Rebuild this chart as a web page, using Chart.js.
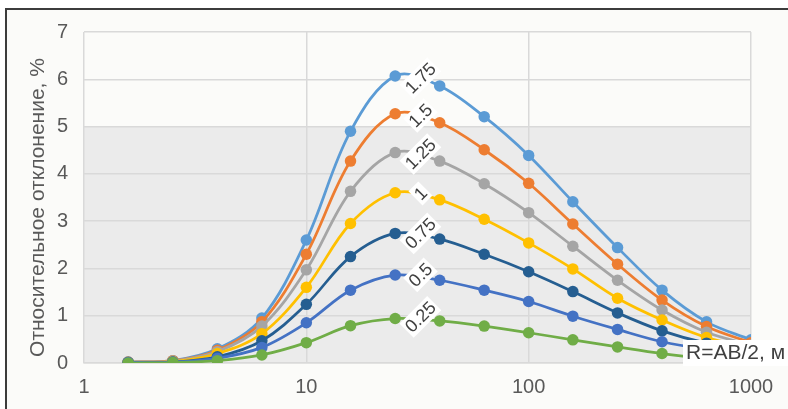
<!DOCTYPE html>
<html>
<head>
<meta charset="utf-8">
<script src="https://cdn.jsdelivr.net/npm/chart.js@4/dist/chart.umd.min.js"></script>
<style>
  html, body { margin: 0; padding: 0; background: #fff; }
  #wrap { width: 788px; height: 409px; }
</style>
</head>
<body>
<div id="wrap"><canvas id="chart" width="788" height="409"></canvas></div>
<script>
// --- data ---
const R_VALUES = [1.58, 2.51, 3.98, 6.31, 10, 15.8, 25.1, 39.8, 63.1, 100, 158, 251, 398, 631, 1000];
const X_TICKS = [1, 10, 100, 1000];
const Y_TICKS = [0, 1, 2, 3, 4, 5, 6, 7];
const SERIES_LABELS = ["1.75", "1.5", "1.25", "1", "0.75", "0.5", "0.25"];
const DEV_175 = [0.02, 0.05, 0.3, 0.95, 2.6, 4.9, 6.07, 5.86, 5.21, 4.39, 3.41, 2.44, 1.54, 0.87, 0.49];
const DEV_150 = [0.02, 0.05, 0.27, 0.87, 2.3, 4.27, 5.27, 5.08, 4.51, 3.8, 2.94, 2.09, 1.33, 0.77, 0.43];
const DEV_125 = [0.02, 0.04, 0.24, 0.78, 1.97, 3.63, 4.45, 4.27, 3.79, 3.18, 2.47, 1.75, 1.12, 0.65, 0.38];
const DEV_100 = [0.01, 0.03, 0.2, 0.62, 1.6, 2.95, 3.6, 3.45, 3.04, 2.54, 1.99, 1.37, 0.91, 0.54, 0.33];
const DEV_075 = [0.01, 0.02, 0.13, 0.47, 1.24, 2.25, 2.74, 2.62, 2.3, 1.93, 1.51, 1.06, 0.68, 0.42, 0.27];
const DEV_050 = [0.01, 0.02, 0.1, 0.33, 0.85, 1.54, 1.86, 1.75, 1.54, 1.3, 0.99, 0.71, 0.45, 0.29, 0.18];
const DEV_025 = [0, 0.01, 0.05, 0.17, 0.43, 0.79, 0.94, 0.89, 0.78, 0.64, 0.49, 0.34, 0.2, 0.1, 0.03];
const BAND = [0, 5]; // shaded range on y
const Y_TITLE = "Относительное отклонение, %";
const X_TITLE = "R=AB/2, м";

const SERIES = [DEV_175, DEV_150, DEV_125, DEV_100, DEV_075, DEV_050, DEV_025];
const COLORS = ["#5b9bd5", "#ed7d31", "#a5a5a5", "#ffc000", "#255e91", "#4472c4", "#70ad47"];
const FONT = "'Liberation Sans', Arial, sans-serif";
const TEXT = "#595959";

const datasets = SERIES.map((vals, i) => ({
  label: SERIES_LABELS[i],
  data: vals.map((v, j) => ({ x: R_VALUES[j], y: v })),
  borderColor: COLORS[i],
  backgroundColor: COLORS[i],
  borderWidth: 2.75,
  pointRadius: 5.75,
  pointHoverRadius: 5.75,
  pointBorderWidth: 0,
  tension: 0.35,
  order: SERIES.length - i, // 0.25 ends up on top
}));

// frame, background and grey band behind the grid
const backdrop = {
  id: "backdrop",
  beforeDraw(chart) {
    const { ctx, chartArea: a, scales: { y } } = chart;
    ctx.save();
    ctx.fillStyle = "#ffffff";
    ctx.fillRect(0, 0, chart.width, chart.height);
    ctx.fillStyle = "#fbfbf9";
    ctx.fillRect(6, 9, chart.width, chart.height);
    ctx.strokeStyle = "#3c3c3c";
    ctx.lineWidth = 2;
    ctx.beginPath();
    ctx.moveTo(6, chart.height);
    ctx.lineTo(6, 9);
    ctx.lineTo(chart.width, 9);
    ctx.stroke();
    const top = y.getPixelForValue(BAND[1]);
    const bot = y.getPixelForValue(BAND[0]);
    ctx.fillStyle = "#ebebeb";
    ctx.fillRect(a.left, top, a.right - a.left, bot - top);
    ctx.restore();
  },
};

// y title, x title box, rotated series labels
const annotations = {
  id: "annotations",
  afterDatasetsDraw(chart) {
    const { ctx, chartArea: a, scales: { x, y } } = chart;
    ctx.save();
    // y title
    ctx.translate(38, (a.top + a.bottom) / 2 + 10);
    ctx.rotate(-Math.PI / 2);
    ctx.font = `21px ${FONT}`;
    ctx.fillStyle = TEXT;
    ctx.textAlign = "center";
    ctx.textBaseline = "middle";
    ctx.fillText(Y_TITLE, 0, 0);
    ctx.restore();

    // x title inside plot, bottom right
    ctx.save();
    ctx.font = `21px ${FONT}`;
    const w = ctx.measureText(X_TITLE).width;
    const tx = a.right - 65, ty = a.bottom - 10;
    ctx.fillStyle = "#ffffff";
    ctx.fillRect(tx - 3, ty - 13, w + 8, 26);
    ctx.fillStyle = "#404040";
    ctx.textAlign = "left";
    ctx.textBaseline = "middle";
    ctx.fillText(X_TITLE, tx, ty);
    ctx.restore();

    // series labels between the 25 and 40 points
    SERIES.forEach((vals, i) => {
      const xv = Math.sqrt(R_VALUES[6] * R_VALUES[7]);
      const yv = (vals[6] + vals[7]) / 2 + 0.06;
      const px = x.getPixelForValue(xv) + 3;
      const py = y.getPixelForValue(yv);
      ctx.save();
      ctx.translate(px, py);
      ctx.rotate(-Math.PI / 4);
      ctx.font = `18px ${FONT}`;
      const lw = ctx.measureText(SERIES_LABELS[i]).width;
      ctx.fillStyle = "#ffffff";
      ctx.fillRect(-lw / 2 - 2, -10, lw + 4, 20);
      ctx.fillStyle = "#404040";
      ctx.textAlign = "center";
      ctx.textBaseline = "middle";
      ctx.fillText(SERIES_LABELS[i], 0, 1);
      ctx.restore();
    });
  },
};

new Chart(document.getElementById("chart"), {
  type: "line",
  data: { datasets },
  options: {
    responsive: false,
    animation: false,
    events: [],
    layout: { padding: { top: 32, right: 37, left: 0, bottom: 0 } },
    plugins: { legend: { display: false }, tooltip: { enabled: false } },
    scales: {
      x: {
        type: "logarithmic",
        min: 1,
        max: 1000,
        afterBuildTicks: (s) => { s.ticks = X_TICKS.map((v) => ({ value: v })); },
        afterFit: (s) => { s.height = 46; },
        ticks: { color: TEXT, font: { family: FONT, size: 20 }, padding: 12, callback: (v) => String(v), maxRotation: 0 },
        grid: { color: "#d9d9d9", lineWidth: 1.5, drawTicks: false },
        border: { color: "#d9d9d9", width: 1.5 },
      },
      y: {
        min: 0,
        max: 7,
        afterBuildTicks: (s) => { s.ticks = Y_TICKS.map((v) => ({ value: v })); },
        afterFit: (s) => { s.width = 84; },
        ticks: { color: TEXT, font: { family: FONT, size: 20 }, padding: 16 },
        grid: { color: "#d9d9d9", lineWidth: 1.5, drawTicks: false },
        border: { display: false },
      },
    },
  },
  plugins: [backdrop, annotations],
});
</script>
</body>
</html>
